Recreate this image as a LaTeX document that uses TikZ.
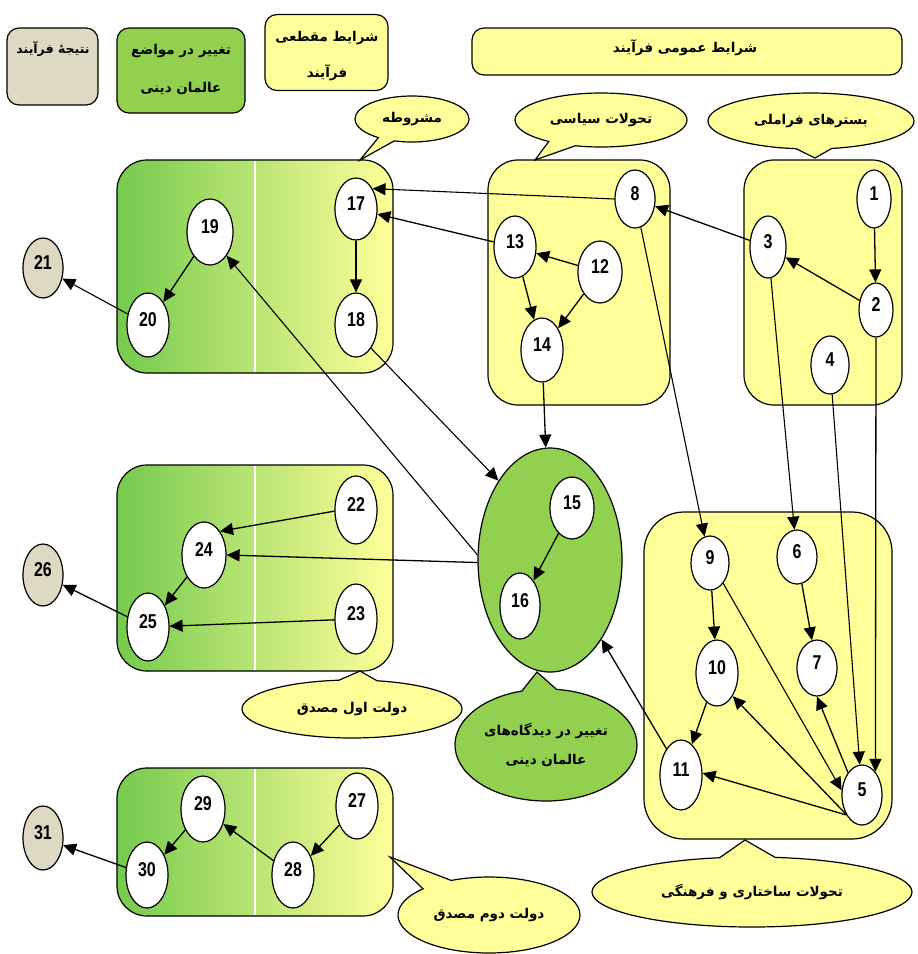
\documentclass[tikz,border=0pt]{standalone}
\usepackage{fontspec}
\usetikzlibrary{shapes.geometric,shapes.callouts,arrows.meta}
\TeXXeTstate=1
\newfontfamily\arabicfont[Script=Arabic]{DejaVu Sans}
\newfontfamily\numfont[FakeStretch=0.8]{Liberation Sans}
\newcommand\prs[1]{{\arabicfont\bfseries\beginR #1\endR}}
\definecolor{yel}{HTML}{FFFF99}
\definecolor{grn}{HTML}{92D050}
\definecolor{gry}{HTML}{DDD9C3}
\definecolor{grd}{HTML}{74CB4E}
\tikzset{
  num/.style={ellipse, draw, line width=1.2pt, fill=white, inner sep=0pt, text depth=10pt,
    minimum width=42pt, minimum height=62pt, font=\numfont\bfseries\fontsize{20}{20}\selectfont},
  sz/.style 2 args={minimum width=#1pt, minimum height=#2pt},
  outc/.style={num, fill=gry},
  ybox/.style={draw, line width=1.2pt, fill=yel, rounded corners=30pt, inner sep=0pt},
  gbox/.style={draw, line width=1.2pt, rounded corners=30pt, left color=grd, right color=yel, inner sep=0pt},
  legend/.style={draw, line width=1.2pt, rounded corners=12pt, inner sep=0pt},
  txt/.style={inner sep=0pt, font=\fontsize{13.5}{13.5}\selectfont},
  bubble/.style={ellipse callout, draw, line width=1.2pt, fill=yel, inner sep=0pt, font=\fontsize{13.5}{13.5}\selectfont},
  arr/.style={line width=1.3pt, -{Triangle[length=13pt,width=12pt]}},
  arrt/.style={line width=1.1pt, -{Triangle[length=13pt,width=12pt]}},
  sep/.style={white, line width=1.3pt, shorten >=1.5pt, shorten <=1.5pt},
}
\begin{document}
\begin{tikzpicture}[x=1pt,y=-1pt]
\path[use as bounding box, fill=white] (0,0) rectangle (918,954);

% legend
\node[legend, fill=gry, sz={91}{77}] (lgGray) at (52.5,66.5) {};
\node[txt, font=\fontsize{12.5}{12.5}\selectfont] (tGray) at (53,49) {\prs{نتیجهٔ فرآیند}};
\node[legend, fill=grn, sz={128}{85}] (lgGreen) at (181,70.5) {};
\node[txt] (tGreen1) at (181,51) {\prs{تغییر در مواضع}};
\node[txt] (tGreen2) at (181,88) {\prs{عالمان دینی}};
\node[legend, fill=yel, sz={123}{76}] (lgYel) at (326.5,52.5) {};
\node[txt] (tYel1) at (327,38) {\prs{شرایط مقطعی}};
\node[txt] (tYel2) at (327,73) {\prs{فرآیند}};
\node[legend, fill=yel, sz={430}{47}] (lgGen) at (687,51.5) {};
\node[txt] (tGen) at (685,48) {\prs{شرایط عمومی فرآیند}};

% containers
\node[gbox, sz={276}{213}] (boxA) at (255,266.5) {};
\draw[sep] (boxA.north) -- (boxA.south);
\node[ybox, sz={182}{245}] (boxB) at (579,282.5) {};
\node[ybox, sz={158}{245}] (boxC) at (823,282.5) {};
\node[ybox, rounded corners=40pt, sz={248}{327}] (boxD) at (768,675.5) {};
\node[gbox, sz={276}{206}] (boxE) at (255,568) {};
\draw[sep] (boxE.north) -- (boxE.south);
\node[gbox, sz={276}{148}] (boxF) at (255,842) {};
\draw[sep] (boxF.north) -- (boxF.south);
\node[ellipse, draw, line width=1.2pt, fill=grn, sz={144}{224}] (G) at (550,560) {};

% callouts
\coordinate (pM) at (360,160);
\coordinate (pS) at (535,160);
\coordinate (pF) at (815,158);
\coordinate (pD1) at (360,671);
\coordinate (pD2) at (390,857);
\coordinate (pT) at (745,840);
\coordinate (pG) at (537,672);
\node[bubble, sz={114}{46}, callout absolute pointer={(pM)}, callout pointer arc=18] (cM) at (412,119) {\prs{مشروطه}};
\node[bubble, sz={172}{54}, callout absolute pointer={(pS)}, callout pointer arc=20] (cS) at (601,120) {\prs{تحولات سیاسی}};
\node[bubble, sz={206}{56}, callout absolute pointer={(pF)}, callout pointer arc=20] (cF) at (811,121) {\prs{بسترهای فراملی}};
\node[bubble, sz={220}{58}, callout absolute pointer={(pD1)}, callout pointer arc=20] (cD1) at (352,709) {\prs{دولت اول مصدق}};
\node[bubble, sz={182}{76}, callout absolute pointer={(pD2)}, callout pointer arc=22] (cD2) at (489,915) {\prs{دولت دوم مصدق}};
\node[bubble, sz={320}{70}, callout absolute pointer={(pT)}, callout pointer arc=20] (cT) at (752,892) {\prs{تحولات ساختاری و فرهنگی}};
\node[bubble, fill=grn, align=center, sz={182}{112}, callout absolute pointer={(pG)}, callout pointer arc=22] (cG) at (546,745) {\prs{تغییر در دیدگاه‌های}\\[14pt]\prs{عالمان دینی}};

% numbered nodes
\node[num, sz={34}{58}] (n1) at (874,199) {1};
\node[num, sz={34}{54}] (n2) at (876,310) {2};
\node[num, sz={36}{62}] (n3) at (768,247) {3};
\node[num, sz={38}{58}] (n4) at (830,365) {4};
\node[num, sz={40}{60}] (n5) at (862,795) {5};
\node[num, sz={40}{54}] (n6) at (797,557) {6};
\node[num, sz={40}{56}] (n7) at (817,668) {7};
\node[num, sz={40}{58}] (n8) at (635,199) {8};
\node[num, sz={38}{54}] (n9) at (710,563) {9};
\node[num, sz={42}{66}] (n10) at (717,673) {10};
\node[num, sz={42}{70}] (n11) at (681,775) {11};
\node[num, sz={44}{62}] (n12) at (600,272) {12};
\node[num, sz={42}{62}] (n13) at (515,247) {13};
\node[num, sz={42}{64}] (n14) at (542,350) {14};
\node[num, sz={44}{62}] (n15) at (572,508) {15};
\node[num, sz={40}{66}] (n16) at (520,606) {16};
\node[num, sz={42}{62}] (n17) at (356,209) {17};
\node[num, sz={42}{64}] (n18) at (356,325) {18};
\node[num, sz={46}{66}] (n19) at (210,232) {19};
\node[num, sz={42}{64}] (n20) at (148,325) {20};
\node[outc, sz={40}{60}] (n21) at (43,268) {21};
\node[num, sz={42}{68}] (n22) at (356,510) {22};
\node[num, sz={42}{70}] (n23) at (356,619) {23};
\node[num, sz={44}{66}] (n24) at (204,555) {24};
\node[num, sz={42}{68}] (n25) at (148,627) {25};
\node[outc, sz={40}{62}] (n26) at (43,575) {26};
\node[num, sz={42}{66}] (n27) at (357,806) {27};
\node[num, sz={42}{66}] (n28) at (293,875) {28};
\node[num, sz={44}{66}] (n29) at (203,809) {29};
\node[num, sz={42}{66}] (n30) at (147,875) {30};
\node[outc, sz={40}{64}] (n31) at (43,838) {31};

% connectors
\draw[arr] (n1) -- (n2);
\draw[arr] (n2) -- (n3);
\draw[arr] (n3) -- (n8);
\draw[arrt] (n8.west) -- (n17.51);
\draw[arr] (n13) -- (n17);
\draw[arr] (n12) -- (n13);
\draw[arr] (n12) -- (n14);
\draw[arr] (n13) -- (n14);
\draw[arr] (n17) -- (n18);
\draw[arr] (n19) -- (n20);
\draw[arrt] (n20) -- (n21);
\draw[arr] (n14) -- (G);
\draw[arrt] (n18.-57) -- (G.123);
\draw[arrt] (G.176) -- (n19.-55);
\draw[arr] (G.182) -- (n24.east);
\draw[arr] (n22.183) -- (n24.56);
\draw[arr] (n23) -- (n25);
\draw[arr] (n24) -- (n25);
\draw[arr] (n25) -- (n26);
\draw[arrt] (n8) -- (n9);
\draw[arrt] (n3) -- (n6);
\draw[arrt] (n4) -- (n5);
\draw[arr] (n2.south) -- (n5.60);
\draw[arr] (n9) -- (n10);
\draw[arr] (n10) -- (n11);
\draw[arr] (n6) -- (n7);
\draw[arrt] (n9.-57) -- (n5.167);
\draw[arr] (n5.230) -- (n10.-56);
\draw[arr] (n5.122) -- (n7.south);
\draw[arr] (n5.232) -- (n11.5);
\draw[arr] (n11.119) -- (G.-57);
\draw[arr] (n15) -- (n16);
\draw[arr] (n27) -- (n28);
\draw[arr] (n28) -- (n29);
\draw[arr] (n29) -- (n30);
\draw[arr] (n30) -- (n31);
\end{tikzpicture}
\end{document}
